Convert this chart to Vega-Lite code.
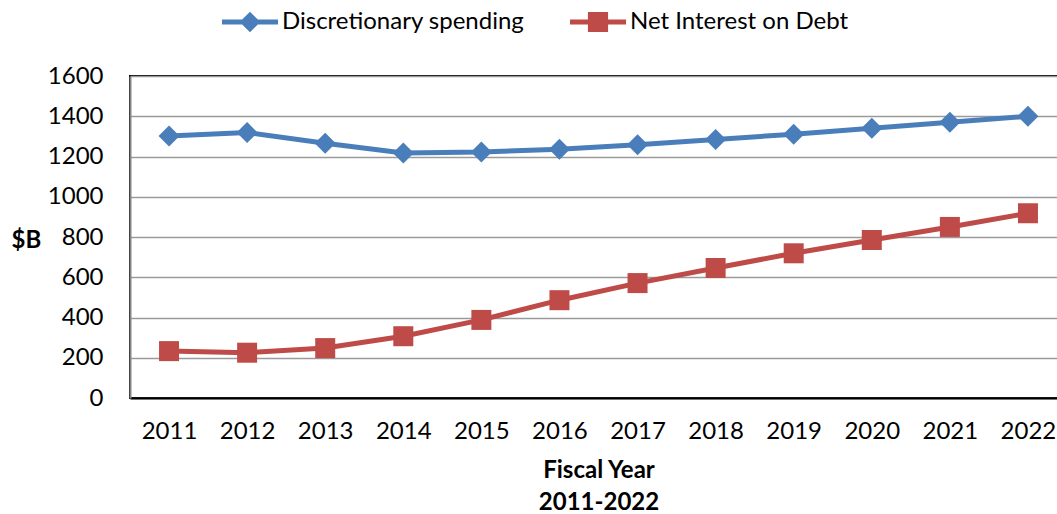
{
  "$schema": "https://vega.github.io/schema/vega-lite/v6.json",
  "width": 937,
  "height": 322,
  "autosize": {"type": "none"},
  "padding": {"left": 130, "top": 76, "right": 0, "bottom": 116},
  "background": "white",
  "config": {
    "font": "Lato",
    "view": {"stroke": "black", "strokeWidth": 2}
  },
  "data": {
    "values": [
      {"year": "2011", "series": "Discretionary spending", "value": 1302},
      {"year": "2012", "series": "Discretionary spending", "value": 1319},
      {"year": "2013", "series": "Discretionary spending", "value": 1266},
      {"year": "2014", "series": "Discretionary spending", "value": 1218},
      {"year": "2015", "series": "Discretionary spending", "value": 1222},
      {"year": "2016", "series": "Discretionary spending", "value": 1236},
      {"year": "2017", "series": "Discretionary spending", "value": 1258},
      {"year": "2018", "series": "Discretionary spending", "value": 1285},
      {"year": "2019", "series": "Discretionary spending", "value": 1311},
      {"year": "2020", "series": "Discretionary spending", "value": 1340},
      {"year": "2021", "series": "Discretionary spending", "value": 1370},
      {"year": "2022", "series": "Discretionary spending", "value": 1400},
      {"year": "2011", "series": "Net Interest on Debt", "value": 233},
      {"year": "2012", "series": "Net Interest on Debt", "value": 225},
      {"year": "2013", "series": "Net Interest on Debt", "value": 248},
      {"year": "2014", "series": "Net Interest on Debt", "value": 307},
      {"year": "2015", "series": "Net Interest on Debt", "value": 388},
      {"year": "2016", "series": "Net Interest on Debt", "value": 486},
      {"year": "2017", "series": "Net Interest on Debt", "value": 571},
      {"year": "2018", "series": "Net Interest on Debt", "value": 646},
      {"year": "2019", "series": "Net Interest on Debt", "value": 719},
      {"year": "2020", "series": "Net Interest on Debt", "value": 785},
      {"year": "2021", "series": "Net Interest on Debt", "value": 850},
      {"year": "2022", "series": "Net Interest on Debt", "value": 918}
    ]
  },
  "encoding": {
    "x": {
      "field": "year",
      "type": "ordinal",
      "scale": {"type": "point", "padding": 0.5},
      "axis": {
        "labelAngle": 0,
        "labelFontSize": 24,
        "labelColor": "black",
        "labelPadding": 21,
        "labelBaseline": "top",
        "ticks": false,
        "grid": false,
        "domainColor": "black",
        "domainWidth": 2,
        "title": ["Fiscal Year", "2011-2022"],
        "titleFontSize": 24,
        "titleFontWeight": "bold",
        "titleColor": "black",
        "titleLineHeight": 32,
        "titleBaseline": "top",
        "titleY": 60
      }
    },
    "y": {
      "field": "value",
      "type": "quantitative",
      "scale": {"domain": [0, 1600]},
      "axis": {
        "values": [0, 200, 400, 600, 800, 1000, 1200, 1400, 1600],
        "format": "d",
        "labelFontSize": 24,
        "labelColor": "black",
        "labelPadding": 27,
        "ticks": false,
        "gridColor": "#9a9a9a",
        "gridWidth": 1.5,
        "domainColor": "#868686",
        "domainWidth": 2,
        "title": "$B",
        "titleAngle": 0,
        "titleFontSize": 24,
        "titleFontWeight": "bold",
        "titleColor": "black",
        "titleAlign": "left",
        "titleBaseline": "middle",
        "titleX": -119,
        "titleY": 164
      }
    },
    "color": {
      "field": "series",
      "type": "nominal",
      "scale": {
        "domain": ["Discretionary spending", "Net Interest on Debt"],
        "range": ["#4A7EBB", "#BE4B48"]
      },
      "legend": {
        "orient": "none",
        "legendX": 92,
        "legendY": -82,
        "direction": "horizontal",
        "title": null,
        "symbolSize": 3136,
        "labelFontSize": 24,
        "labelColor": "black",
        "labelLimit": 0,
        "labelOffset": 4,
        "columnPadding": 45,
        "encode": {
          "symbols": {
            "update": {
              "shape": {"signal": "datum.value === 'Discretionary spending' ? 'M-1,-0.09H1V0.09H-1Z M0,-0.37L0.37,0L0,0.37L-0.37,0Z' : 'M-1,-0.09H1V0.09H-1Z M-0.36,-0.36H0.36V0.36H-0.36Z'"},
              "fill": {"scale": "color", "field": "value"},
              "stroke": {"value": "transparent"},
              "strokeWidth": {"value": 0},
              "opacity": {"value": 1}
            }
          }
        }
      }
    }
  },
  "layer": [
    {"mark": {"type": "line", "strokeWidth": 5}},
    {
      "transform": [{"filter": "datum.series === 'Discretionary spending'"}],
      "mark": {"type": "point", "filled": true, "opacity": 1, "size": 441, "shape": "diamond"}
    },
    {
      "transform": [{"filter": "datum.series === 'Net Interest on Debt'"}],
      "mark": {"type": "point", "filled": true, "opacity": 1, "size": 400, "shape": "square"}
    }
  ]
}
